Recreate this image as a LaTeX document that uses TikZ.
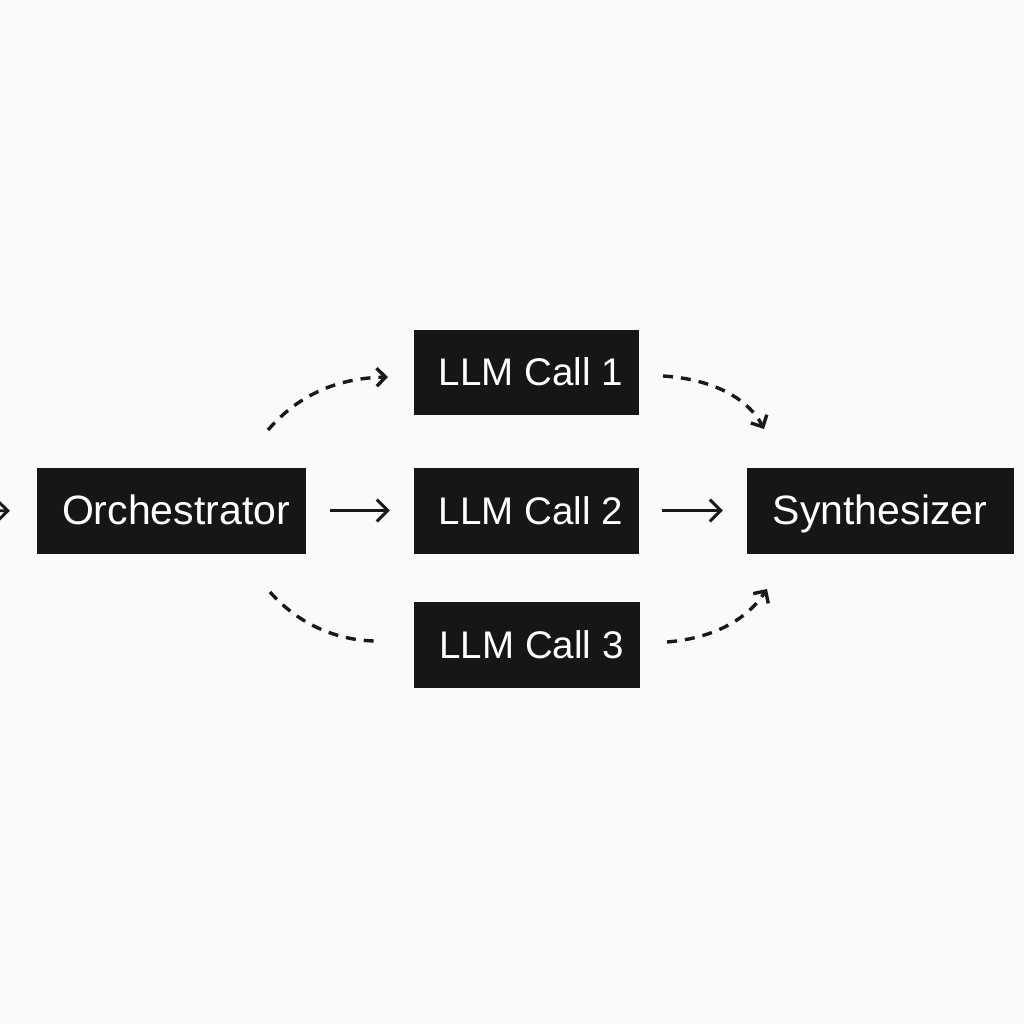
\documentclass[tikz,border=0pt]{standalone}
\usepackage{fontspec}
\setmainfont{Liberation Sans}
\usetikzlibrary{arrows.meta}
\definecolor{boxfill}{HTML}{161616}
\definecolor{bg}{HTML}{FAFAFA}
\tikzset{
  blk/.style={draw=boxfill, fill=boxfill, text=white, inner sep=0pt,
    font=\fontsize{40}{40}\selectfont, text height=28.6pt, text depth=0pt},
  llm/.style={blk, font=\fontsize{38.5}{38.5}\selectfont, text height=27.6pt},
  arr/.style={draw=black!90, line width=2.9pt,
    -{Straight Barb[length=11pt,width=22pt,line width=2.9pt]}},
  dasharr/.style={draw=black!90, line width=3.4pt, dash pattern=on 10pt off 8pt,
    -{Straight Barb[length=9pt,width=18pt,line width=3.4pt]}},
  dashline/.style={draw=black!90, line width=3.4pt, dash pattern=on 10pt off 8pt}
}
\begin{document}
\begin{tikzpicture}[x=1pt,y=-1pt]
\fill[bg] (0,0) rectangle (1024,1024);
\useasboundingbox (0,0) rectangle (1024,1024);

\node[blk, minimum width=268pt, minimum height=85pt] (orch) at (171,510.5) {\hspace*{10pt}\fontsize{41}{41}\selectfont Orchestrator};
\node[llm, minimum width=224pt, minimum height=84pt] (l1) at (526,372) {\hspace*{10pt}LLM Call 1};
\node[llm, minimum width=224pt, minimum height=85pt] (l2) at (526,510.5) {\hspace*{10pt}LLM Call 2};
\node[llm, minimum width=225pt, minimum height=85pt] (l3) at (526.5,644.5) {\hspace*{10pt}LLM Call 3};
\node[blk, minimum width=266pt, minimum height=85pt] (syn) at (880,510.5) {\fontsize{41}{41}\selectfont Synthesizer};

\coordinate (src) at (-30,511);
\coordinate (a1s) at (268,430);
\coordinate (a1e) at (388,377);
\coordinate (b1s) at (663,376);
\coordinate (b1e) at (764,429);
\coordinate (a3s) at (270,592);
\coordinate (a3e) at (377,641);
\coordinate (b3s) at (667,642);
\coordinate (b3e) at (767,589);

\draw[arr, shorten >=27pt] (src) -- (orch.west);
\draw[arr, shorten <=25pt, shorten >=24pt] (orch.east) -- (l2.west);
\draw[arr, shorten <=24pt, shorten >=24pt] (l2.east) -- (syn.west);

\draw[dasharr] (a1s) .. controls (300,393) and (340,378) .. (a1e);
\draw[dasharr] (b1s) .. controls (712,379) and (748,398) .. (b1e);
\draw[dashline] (a3s) .. controls (300,626) and (340,641) .. (a3e);
\draw[dasharr] (b3s) .. controls (716,638) and (748,618) .. (b3e);
\end{tikzpicture}
\end{document}
